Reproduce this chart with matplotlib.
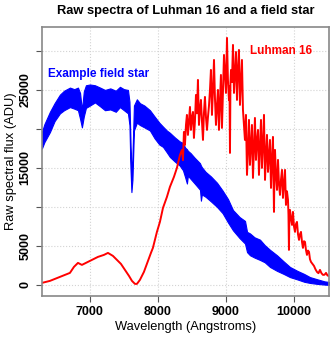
import matplotlib
matplotlib.use("Agg")
import matplotlib.pyplot as plt
import numpy as np

plt.rcParams['font.family'] = ['Liberation Sans', 'DejaVu Sans']

# Field star: spectrum read as upper / lower envelope of the noisy band
star_wave = [6294, 6330, 6412, 6480, 6559, 6620, 6706, 6770, 6824, 6855, 6882, 6910,
             6941, 7000, 7074, 7150, 7221, 7300, 7380, 7441, 7500, 7559, 7581, 7596,
             7610, 7625, 7647, 7690, 7735, 7800, 7882, 7950, 8020, 8074, 8130, 8176,
             8250, 8320, 8368, 8400, 8426, 8440, 8480, 8540, 8618, 8632, 8645, 8700,
             8780, 8868, 8950, 9030, 9103, 9200, 9280, 9310, 9353, 9420, 9500, 9570,
             9647, 9750, 9850, 9941, 10050, 10150, 10235, 10350, 10450, 10515]
star_hi = [19600, 20600, 22200, 23300, 24400, 24900, 25300, 25100, 25300, 24600, 22400, 24800,
           25600, 25700, 25600, 25300, 25000, 25200, 24900, 25400, 25100, 25000, 23500, 18500,
           13500, 16500, 23000, 23800, 23300, 23000, 22400, 21600, 20800, 20300, 19800, 19500,
           18900, 18400, 18200, 17600, 17400, 17200, 16900, 16300, 15600, 15300, 15100, 14500,
           13900, 13100, 12100, 11000, 9600, 8700, 8200, 6800, 6600, 6100, 5800, 5100,
           4500, 3800, 3000, 2300, 1800, 1400, 1000, 700, 450, 380]
star_lo = [17500, 18300, 19600, 21000, 22000, 22400, 22800, 22600, 22400, 21300, 20200, 21600,
           22700, 23000, 23400, 22900, 22400, 22500, 22200, 22800, 22400, 22000, 20500, 15000,
           11900, 13500, 19800, 20800, 20500, 20200, 19800, 18800, 18000, 17700, 17000, 16400,
           15800, 15300, 14700, 13800, 13000, 14000, 13600, 13000, 12200, 10800, 11600, 11300,
           10700, 10000, 9200, 8000, 7000, 6000, 5300, 4200, 3800, 3500, 3200, 2900,
           2300, 1800, 1400, 1000, 700, 400, 250, 120, 40, 0]

# Luhman 16 spectrum, read point by point
luh_wave = [6294, 6412, 6559, 6706, 6735, 6765, 6824, 6882, 6941, 7000, 7118, 7206,
            7265, 7338, 7397, 7456, 7515, 7574, 7618, 7662, 7691, 7735, 7794, 7853,
            7897, 7926, 7985, 8029, 8074, 8132, 8176, 8235, 8279, 8324,
            8353, 8368, 8382, 8397, 8412, 8426, 8441, 8456, 8471, 8485, 8500, 8515,
            8529, 8544, 8559, 8574, 8588, 8603, 8618, 8632, 8647, 8662, 8676, 8691,
            8706, 8721, 8735, 8750, 8765, 8779, 8794, 8809, 8824, 8838, 8853, 8868,
            8882, 8897, 8912, 8926, 8941, 8956, 8971, 8985, 9000, 9015, 9029, 9044,
            9052, 9059, 9066, 9074, 9088, 9103, 9118, 9132, 9147, 9162, 9176, 9191,
            9206, 9220, 9235, 9250, 9265, 9279, 9294, 9309, 9324, 9338, 9353, 9368,
            9382, 9397, 9412, 9426, 9441, 9456, 9471, 9485, 9500, 9515, 9529, 9544,
            9559, 9574, 9588, 9603, 9618, 9632, 9647, 9662, 9676, 9691, 9706, 9713,
            9721, 9735, 9750, 9765, 9779, 9794, 9809, 9824, 9838, 9853, 9868, 9882,
            9897, 9912, 9919, 9926, 9933, 9941, 9956, 9971, 9985, 10000, 10015, 10029,
            10044, 10059, 10074, 10088, 10103, 10118, 10132, 10147, 10162, 10176, 10191, 10206,
            10221, 10235, 10250, 10272, 10294, 10316, 10338, 10360, 10382, 10404, 10426, 10449,
            10471, 10493, 10515]
luh_flux = [256, 513, 1026, 1538, 1923, 2308, 2820, 2564, 2820, 3077, 3590, 3846,
            4100, 3718, 3205, 2692, 1923, 1154, 513, 128, 128, 641, 1667, 3077,
            4103, 4744, 6795, 8077, 9872, 11282, 12564, 13846, 15000, 16667,
            17308, 16000, 19615, 17949, 20500, 21795, 19231, 21000, 22820, 19872, 21500, 22179,
            18846, 21000, 24359, 22000, 26282, 20513, 22500, 23718, 21000, 18590, 22000, 24103,
            21500, 19872, 21500, 22949, 25000, 27564, 21795, 25000, 28846, 24000, 20513, 23000,
            25000, 19872, 23500, 26923, 20128, 25000, 29487, 27000, 24615, 31667, 26282, 23718,
            25500, 16923, 26000, 27564, 26000, 30769, 24615, 27000, 29871, 23718, 27500, 30128,
            23077, 26000, 28846, 22436, 20500, 18590, 21795, 14103, 17500, 21154, 15385, 18000,
            20513, 13718, 17500, 21410, 16026, 18500, 19872, 14103, 17500, 21154, 15000, 18000,
            21795, 13462, 16500, 19231, 14487, 16500, 18590, 12436, 16000, 18974, 9359, 15000,
            17308, 14000, 12179, 16026, 13000, 11538, 13500, 14744, 11154, 13000, 14744, 10256,
            12000, 10897, 9000, 4487, 9000, 9615, 8500, 7692, 9359, 7500, 6795, 7800,
            8077, 6500, 5769, 6500, 6795, 5500, 4744, 5600, 5513, 4500, 3846, 4400,
            4231, 3300, 2949, 2700, 2436, 2000, 1667, 1500, 1923, 1500, 1282, 1300,
            1538, 1200, 1154]

x_ticks = [7000, 8000, 9000, 10000]
y_ticks = [0, 5000, 10000, 15000, 20000, 25000, 30000]
y_labels = ['0', '5000', '', '15000', '', '25000', '']

fig = plt.figure(figsize=(3.30, 3.37), dpi=100)
ax = fig.add_axes([0.127, 0.122, 0.870, 0.798])

ax.grid(True, color='#d3d3d3', linestyle=':', linewidth=0.8)
ax.set_axisbelow(True)

ax.fill_between(star_wave, star_lo, star_hi, color='blue', linewidth=0.8, edgecolor='blue')
ax.plot(luh_wave, luh_flux, color='red', linewidth=1.4)

ax.set_xlim(6294, 10515)
ax.set_ylim(-1410, 33076)
ax.set_xticks(x_ticks)
ax.set_yticks(y_ticks)
ax.set_yticklabels(y_labels, rotation=90, va='center')
ax.tick_params(colors='#555555', labelcolor='black', length=4, width=0.8, labelsize=9)
for lab in ax.get_xticklabels() + ax.get_yticklabels():
    lab.set_fontweight('bold')
for s in ax.spines.values():
    s.set_color('#888888')
    s.set_linewidth(1.2)

ax.set_xlabel('Wavelength (Angstroms)', fontsize=9.3, labelpad=2)
ax.set_ylabel('Raw spectral flux (ADU)', fontsize=9.3, labelpad=2)
ax.set_title('Raw spectra of Luhman 16 and a field star', fontsize=9.3, fontweight='bold', pad=9)

ax.text(9809, 30000, 'Luhman 16', color='red', fontsize=8.5, fontweight='bold', ha='center', va='center')
ax.text(7132, 27050, 'Example field star', color='blue', fontsize=8.5, fontweight='bold', ha='center', va='center')

fig.savefig('out.png', dpi=100)
